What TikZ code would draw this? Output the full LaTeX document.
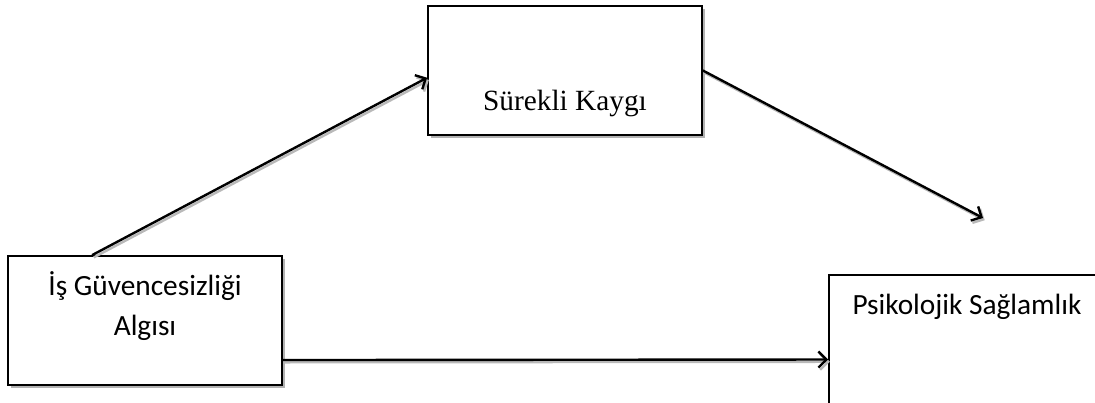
\documentclass[tikz,border=0pt]{standalone}
\usepackage{fontspec}
\newfontfamily\calibrifont{Carlito}
\newfontfamily\timesfont{Liberation Serif}
\usetikzlibrary{arrows.meta,shadows}

\tikzset{
    kutu/.style={draw, line width=1.3pt, fill=white, minimum width=205.5pt, minimum height=96.75pt,
        drop shadow={shadow xshift=2.5pt, shadow yshift=-2.5pt, fill=gray!60, opacity=1}},
    ok/.style={line width=1.8pt, -{Straight Barb[length=6pt,width=12pt]},
        preaction={draw=gray!55, line width=1.8pt, -{Straight Barb[length=6pt,width=12pt]},
            transform canvas={xshift=1.3pt,yshift=-1.7pt}}},
    yazi/.style={font=\calibrifont\fontsize{22}{30}\selectfont, align=center}
}

\begin{document}
\begin{tikzpicture}[x=0.75pt,y=-0.75pt] % 1 unit = 1 px of the page

        % Page area (1095 x 403 px)
        \useasboundingbox (0,0) rectangle (1095,403);
        \clip (0,0) rectangle (1095,403);

        % Boxes
        \node[kutu] (algi) at (145,320.5) {};
        \node[kutu] (kaygi) at (565,70.5) {};
        \node[kutu, minimum width=207pt, minimum height=97.5pt] (saglamlik) at (967,340) {};

        % Texts, set at the top of each box
        \node[yazi] (algiyazi) at (145,306) {İş Güvencesizliği\\Algısı};
        \node[font=\timesfont\fontsize{22}{30}\selectfont, anchor=base] (kaygiyazi) at (565,110) {Sürekli Kaygı};
        \node[yazi, anchor=base] (saglamlikyazi) at (967,314) {Psikolojik Sağlamlık};

        % Free end of the arrow leaving the top box
        \coordinate (uc) at (983,218);

        % Arrows
        \draw[ok] (algi.129) -- (kaygi.183);
        \draw[ok] (kaygi.east) -- (uc);
        \draw[ok] (algi.-16) -- (saglamlik.188);

    \end{tikzpicture}
\end{document}
